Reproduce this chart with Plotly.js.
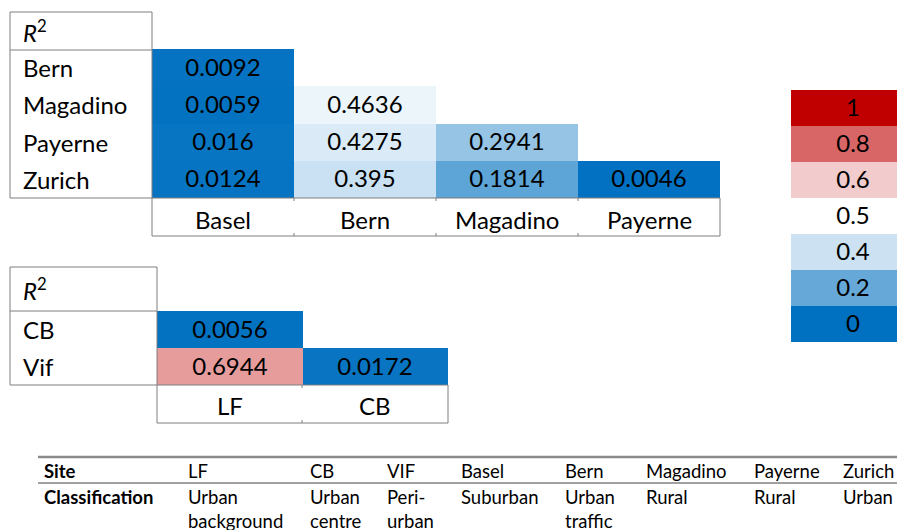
<!DOCTYPE html>
<html><head><meta charset="utf-8">
<script src="https://cdn.plot.ly/plotly-3.0.1.min.js"></script>
<style>html,body{margin:0;padding:0;background:#fff}</style>
</head><body><div id="chart" style="width:897px;height:530px"></div>
<script>
// ---- data ----
const colSitesA = ['Basel', 'Bern', 'Magadino', 'Payerne'];
const rowSitesA = ['Bern', 'Magadino', 'Payerne', 'Zurich'];
const r2Bern     = [0.0092];
const r2Magadino = [0.0059, 0.4636];
const r2Payerne  = [0.016, 0.4275, 0.2941];
const r2Zurich   = [0.0124, 0.395, 0.1814, 0.0046];

const colSitesB = ['LF', 'CB'];
const rowSitesB = ['CB', 'Vif'];
const r2CB  = [0.0056];
const r2Vif = [0.6944, 0.0172];

const scaleValues = [1, 0.8, 0.6, 0.5, 0.4, 0.2, 0];

const siteCodes = ['LF', 'CB', 'VIF', 'Basel', 'Bern', 'Magadino', 'Payerne', 'Zurich'];
const siteClasses = ['Urban<br>background', 'Urban<br>centre', 'Peri-<br>urban', 'Suburban', 'Urban<br>traffic', 'Rural', 'Rural', 'Urban'];

// ---- helpers ----
const W = 897, H = 530;
const px = x => x / W;
const py = y => 1 - y / H;
function pad(rows, n) {
  return rows.map(r => { const o = r.slice(); while (o.length < n) o.push(null); return o; });
}
function txt(z) { return z.map(r => r.map(v => v === null ? '' : String(v))); }

const FONT = 'Lato, "Open Sans", sans-serif';
const BIG = 24, SMALL = 18.5;
const cscale = [[0, '#0070C0'], [0.5, '#FFFFFF'], [1, '#C00000']];

const zA = pad([r2Bern, r2Magadino, r2Payerne, r2Zurich], 4);
const zB = pad([r2CB, r2Vif], 2);
const zS = scaleValues.map(v => [v]);

function hm(z, xa, ya) {
  return {
    type: 'heatmap', z: z, x: z[0].map((_, i) => i), y: z.map((_, i) => i),
    text: txt(z), texttemplate: '%{text}',
    textfont: {family: FONT, size: BIG, color: '#000'},
    colorscale: cscale, zmin: 0, zmax: 1, showscale: false,
    hoverinfo: 'skip', xaxis: xa, yaxis: ya, xgap: 0, ygap: 0
  };
}

const data = [hm(zA, 'x', 'y'), hm(zB, 'x2', 'y2'), hm(zS, 'x3', 'y3')];

const ax = (dom, rng) => ({domain: dom, range: rng, visible: false, fixedrange: true});

const LC = '#7f7f7f';
const shapes = [];
function line(x0, y0, x1, y1, w, c) {
  shapes.push({type: 'line', xref: 'paper', yref: 'paper', x0: px(x0), y0: py(y0), x1: px(x1), y1: py(y1),
    line: {color: c || LC, width: w || 1}});
}
// top table
line(10, 12, 152, 12); line(10, 12, 10, 198); line(10, 50, 152, 50);
line(152, 12, 152, 236); line(10, 198, 720, 198); line(152, 236, 720, 236); line(720, 198, 720, 236);
[294, 436, 578].forEach(x => { line(x, 198, x, 201); line(x, 233, x, 236); });
// second table
line(10, 267, 157, 267); line(10, 267, 10, 385); line(10, 311, 157, 311);
line(157, 267, 157, 423); line(10, 385, 448, 385); line(157, 423, 448, 423); line(448, 385, 448, 423);
line(302, 385, 302, 388); line(302, 420, 302, 423);
// bottom table
line(38, 457, 897, 457, 2.5, '#8a8a8a');
line(38, 483, 897, 483, 2, '#a0a0a0');

const annotations = [];
const F = s => ({family: FONT, size: s, color: '#000'});
function ann(o) { annotations.push(Object.assign({showarrow: false, font: F(BIG)}, o)); }

ann({xref: 'paper', yref: 'paper', x: px(21), y: py(31), xanchor: 'left', yanchor: 'middle', text: '<i>R</i><sup>2</sup>'});
rowSitesA.forEach((s, i) => ann({xref: 'paper', yref: 'y', x: px(21), y: i, xanchor: 'left', yanchor: 'middle', text: s}));
colSitesA.forEach((s, i) => ann({xref: 'x', yref: 'paper', x: i, y: py(219), xanchor: 'center', yanchor: 'middle', text: s}));

ann({xref: 'paper', yref: 'paper', x: px(21), y: py(289), xanchor: 'left', yanchor: 'middle', text: '<i>R</i><sup>2</sup>'});
rowSitesB.forEach((s, i) => ann({xref: 'paper', yref: 'y2', x: px(21), y: i, xanchor: 'left', yanchor: 'middle', text: s}));
colSitesB.forEach((s, i) => ann({xref: 'x2', yref: 'paper', x: i, y: py(405), xanchor: 'center', yanchor: 'middle', text: s}));

const colX = [186, 308, 385, 459, 563, 644, 752, 841];
ann({xref: 'paper', yref: 'paper', x: px(42), y: py(471), xanchor: 'left', yanchor: 'middle', text: '<b>Site</b>', font: F(SMALL)});
ann({xref: 'paper', yref: 'paper', x: px(42), y: py(484), xanchor: 'left', yanchor: 'top', text: '<b>Classification</b>', font: F(SMALL)});
siteCodes.forEach((s, i) => ann({xref: 'paper', yref: 'paper', x: px(colX[i]), y: py(471), xanchor: 'left', yanchor: 'middle', text: s, font: F(SMALL)}));
siteClasses.forEach((s, i) => ann({xref: 'paper', yref: 'paper', x: px(colX[i]), y: py(484), xanchor: 'left', yanchor: 'top', align: 'left', text: s, font: F(SMALL)}));

const layout = {
  width: W, height: H, margin: {l: 0, r: 0, t: 0, b: 0},
  paper_bgcolor: '#fff', plot_bgcolor: 'rgba(0,0,0,0)', showlegend: false,
  font: {family: FONT},
  xaxis: ax([px(152), px(720)], [-0.5, 3.5]),
  yaxis: ax([py(198), py(49)], [3.5, -0.5]),
  xaxis2: ax([px(157), px(448)], [-0.5, 1.5]),
  yaxis2: ax([py(385), py(311)], [1.5, -0.5]),
  xaxis3: ax([px(791), 1], [-0.5, 0.36]),
  yaxis3: ax([py(342), py(90)], [6.5, -0.5]),
  shapes: shapes, annotations: annotations
};

Plotly.newPlot('chart', data, layout, {staticPlot: true, displayModeBar: false});
</script></body></html>
